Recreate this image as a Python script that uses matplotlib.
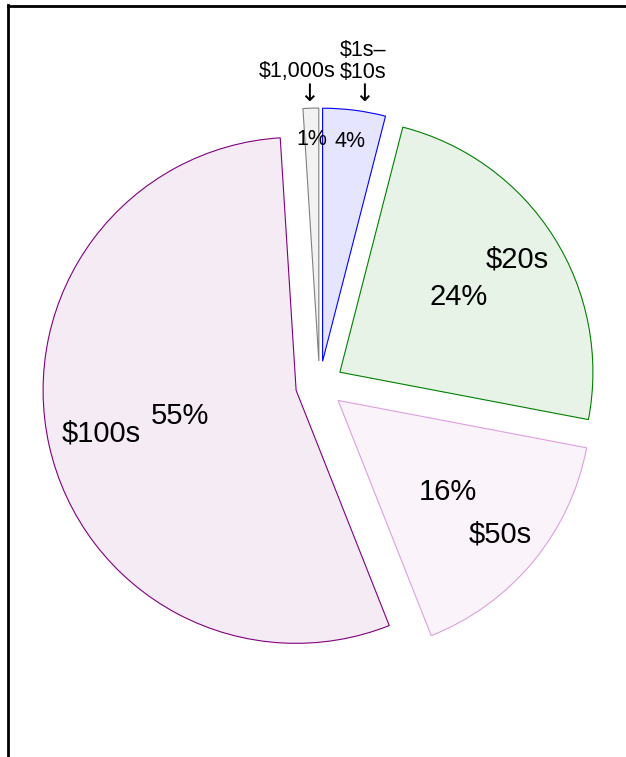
#!/usr/bin/env python3
# Pie chart of bill denominations, exploded slices with light fills.

import numpy as np
import matplotlib
matplotlib.use('Agg')
import matplotlib.pyplot as plt
from matplotlib.colors import to_rgba
from matplotlib.lines import Line2D

plt.rcParams['font.family'] = ['Liberation Sans', 'DejaVu Sans']

#%%============================================================================
# Data
#==============================================================================
names = ['$1s–\n$10s', '$20s', '$50s', '$100s', '$1,000s']
shares = [4, 24, 16, 55, 1]
pct_text = ['4%', '24%', '16%', '55%', '1%']
edge_colors = ['blue', 'green', 'plum', 'purple', 'gray']
face_alpha = [0.1, 0.09, 0.12, 0.08, 0.1]
# how far out (fraction of radius) the text sits in each slice
pct_dist = [0.875, 0.555, 0.565, 0.47, 0.875]
name_dist = [None, 0.83, 0.83, 0.79, None]
inside_name = [False, True, True, True, False]

#%%============================================================================
# Plot
#==============================================================================
fig = plt.figure(figsize=(6.26, 7.57), dpi=100)
ax = fig.add_axes([0, 0, 1, 1])

wedges, _ = ax.pie(shares, explode=[0.095] * len(shares), startangle=90,
                   counterclock=False, colors=edge_colors,
                   wedgeprops=dict(linewidth=0.8))

for w, c, a in zip(wedges, edge_colors, face_alpha):
    w.set_facecolor(to_rgba(c, a))
    w.set_edgecolor(c)

for i, w in enumerate(wedges):
    th = np.deg2rad(0.5 * (w.theta1 + w.theta2))
    cx, cy = w.center
    small = not inside_name[i]
    fs = 15.5 if small else 21
    d = pct_dist[i]
    ax.text(cx + d * np.cos(th), cy + d * np.sin(th), pct_text[i],
            ha='center', va='center', fontsize=fs)
    if inside_name[i]:
        d = name_dist[i]
        ax.text(cx + d * np.cos(th), cy + d * np.sin(th), names[i],
                ha='center', va='center', fontsize=21)

# labels for the two thin slices sit above the pie with a down arrow
w1, w5 = wedges[0], wedges[4]
ax.text(w1.center[0] + 0.16, 1.28, names[0], ha='center', va='center',
        fontsize=15.5, linespacing=1.08)
ax.text(w1.center[0] + 0.165, 1.15, '↓', ha='center', va='center',
        fontsize=17, family='DejaVu Sans')
ax.text(w5.center[0] - 0.085, 1.24, names[4], ha='center', va='center',
        fontsize=15.5)
ax.text(w5.center[0] - 0.04, 1.15, '↓', ha='center', va='center',
        fontsize=17, family='DejaVu Sans')

ax.set_xlim(-1.263, 1.211)
ax.set_ylim(-1.470, 1.522)
ax.set_aspect('auto')
ax.axis('off')

# frame lines on the left and top edge of the figure
W, H = 626.0, 757.0
fig.add_artist(Line2D([7.5 / W, 7.5 / W], [0, 1 - 5.0 / H], color='black',
                      linewidth=2.0, transform=fig.transFigure,
                      solid_capstyle='projecting'))
fig.add_artist(Line2D([7.5 / W, 1.0], [1 - 6.0 / H, 1 - 6.0 / H],
                      color='black', linewidth=2.0, transform=fig.transFigure,
                      solid_capstyle='projecting'))

fig.savefig('out.png', dpi=100)
